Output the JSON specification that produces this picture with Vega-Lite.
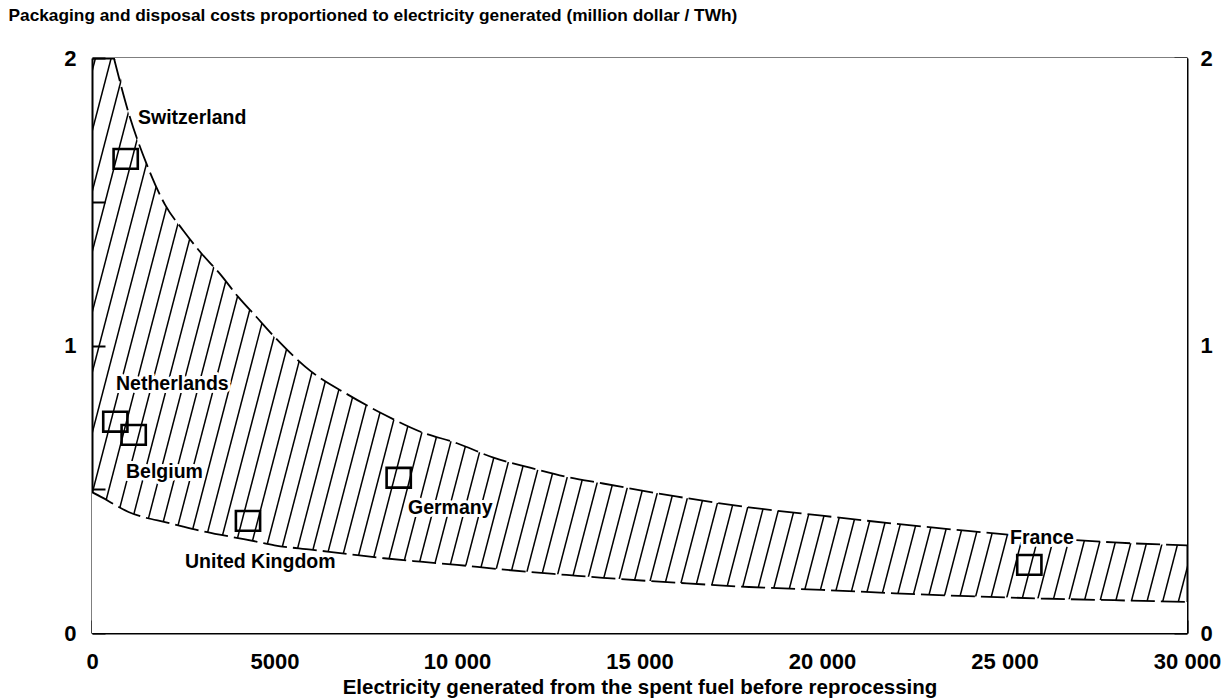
{
  "$schema": "https://vega.github.io/schema/vega-lite/v6.json",
  "width": 1095,
  "height": 575,
  "autosize": {"type": "none"},
  "padding": {"left": 92, "top": 58, "right": 39, "bottom": 66},
  "background": "white",
  "config": {
    "view": {"stroke": null},
    "font": "Liberation Sans",
    "axis": {
      "grid": false,
      "domainColor": "black",
      "domainWidth": 2,
      "tickColor": "black",
      "tickWidth": 2,
      "labelColor": "black",
      "labelFont": "Liberation Sans",
      "labelFontSize": 22,
      "labelFontWeight": "bold",
      "titleColor": "black",
      "titleFont": "Liberation Sans",
      "zindex": 1
    }
  },
  "datasets": {
    "band": [
      {"x": 0, "lo": 0.49, "hi": 2.0},
      {"x": 300, "lo": 0.47, "hi": 2.0},
      {"x": 600, "lo": 0.448, "hi": 2.0},
      {"x": 1000, "lo": 0.421, "hi": 1.81},
      {"x": 1500, "lo": 0.4, "hi": 1.63},
      {"x": 2000, "lo": 0.386, "hi": 1.49},
      {"x": 2500, "lo": 0.37, "hi": 1.4},
      {"x": 3000, "lo": 0.355, "hi": 1.32},
      {"x": 3500, "lo": 0.342, "hi": 1.25},
      {"x": 4000, "lo": 0.33, "hi": 1.17},
      {"x": 4500, "lo": 0.318, "hi": 1.1},
      {"x": 5000, "lo": 0.305, "hi": 1.03},
      {"x": 6000, "lo": 0.29, "hi": 0.91},
      {"x": 7000, "lo": 0.275, "hi": 0.83},
      {"x": 8000, "lo": 0.26, "hi": 0.76},
      {"x": 9000, "lo": 0.248, "hi": 0.7},
      {"x": 10000, "lo": 0.237, "hi": 0.66},
      {"x": 11000, "lo": 0.224, "hi": 0.61},
      {"x": 12000, "lo": 0.212, "hi": 0.575},
      {"x": 13000, "lo": 0.202, "hi": 0.543},
      {"x": 14000, "lo": 0.192, "hi": 0.52},
      {"x": 16000, "lo": 0.175, "hi": 0.475},
      {"x": 18000, "lo": 0.16, "hi": 0.437},
      {"x": 20000, "lo": 0.15, "hi": 0.408},
      {"x": 22000, "lo": 0.138, "hi": 0.38},
      {"x": 24000, "lo": 0.128, "hi": 0.355},
      {"x": 26000, "lo": 0.12, "hi": 0.332},
      {"x": 28000, "lo": 0.114, "hi": 0.315},
      {"x": 30000, "lo": 0.108, "hi": 0.305}
    ],
    "hatch": [
      {"b": -4000, "t": 96}, {"b": -3570, "t": 526}, {"b": -3140, "t": 956}, {"b": -2710, "t": 1386},
      {"b": -2280, "t": 1816}, {"b": -1850, "t": 2246}, {"b": -1420, "t": 2676}, {"b": -990, "t": 3106},
      {"b": -560, "t": 3536}, {"b": -130, "t": 3966}, {"b": 300, "t": 4396}, {"b": 730, "t": 4826},
      {"b": 1160, "t": 5256}, {"b": 1590, "t": 5686}, {"b": 2020, "t": 6116}, {"b": 2450, "t": 6546},
      {"b": 2880, "t": 6976}, {"b": 3310, "t": 7406}, {"b": 3740, "t": 7836}, {"b": 4170, "t": 8266},
      {"b": 4600, "t": 8696}, {"b": 5030, "t": 9126}, {"b": 5460, "t": 9556}, {"b": 5890, "t": 9986},
      {"b": 6320, "t": 10416}, {"b": 6750, "t": 10846}, {"b": 7180, "t": 11276}, {"b": 7610, "t": 11706},
      {"b": 8040, "t": 12136}, {"b": 8470, "t": 12566}, {"b": 8900, "t": 12996}, {"b": 9330, "t": 13426},
      {"b": 9760, "t": 13856}, {"b": 10190, "t": 14286}, {"b": 10620, "t": 14716}, {"b": 11050, "t": 15146},
      {"b": 11480, "t": 15576}, {"b": 11910, "t": 16006}, {"b": 12340, "t": 16436}, {"b": 12770, "t": 16866},
      {"b": 13200, "t": 17296}, {"b": 13630, "t": 17726}, {"b": 14060, "t": 18156}, {"b": 14490, "t": 18586},
      {"b": 14920, "t": 19016}, {"b": 15350, "t": 19446}, {"b": 15780, "t": 19876}, {"b": 16210, "t": 20306},
      {"b": 16640, "t": 20736}, {"b": 17070, "t": 21166}, {"b": 17500, "t": 21596}, {"b": 17930, "t": 22026},
      {"b": 18360, "t": 22456}, {"b": 18790, "t": 22886}, {"b": 19220, "t": 23316}, {"b": 19650, "t": 23746},
      {"b": 20080, "t": 24176}, {"b": 20510, "t": 24606}, {"b": 20940, "t": 25036}, {"b": 21370, "t": 25466},
      {"b": 21800, "t": 25896}, {"b": 22230, "t": 26326}, {"b": 22660, "t": 26756}, {"b": 23090, "t": 27186},
      {"b": 23520, "t": 27616}, {"b": 23950, "t": 28046}, {"b": 24380, "t": 28476}, {"b": 24810, "t": 28906},
      {"b": 25240, "t": 29336}, {"b": 25670, "t": 29766}, {"b": 26100, "t": 30196}, {"b": 26530, "t": 30626},
      {"b": 26960, "t": 31056}, {"b": 27390, "t": 31486}, {"b": 27820, "t": 31916}, {"b": 28250, "t": 32346},
      {"b": 28680, "t": 32776}, {"b": 29110, "t": 33206}, {"b": 29540, "t": 33636}, {"b": 29970, "t": 34066}
    ],
    "pts": [
      {"country": "Switzerland", "x": 923, "y": 1.649, "lx": 1260, "ly": 1.79},
      {"country": "Netherlands", "x": 639, "y": 0.735, "lx": 658, "ly": 0.866},
      {"country": "Belgium", "x": 1142, "y": 0.689, "lx": 932, "ly": 0.561},
      {"country": "United Kingdom", "x": 4274, "y": 0.39, "lx": 2548, "ly": 0.248},
      {"country": "Germany", "x": 8403, "y": 0.54, "lx": 8658, "ly": 0.435},
      {"country": "France", "x": 25680, "y": 0.237, "lx": 25151, "ly": 0.33}
    ]
  },
  "layer": [
    {
      "data": {"name": "hatch"},
      "mark": {"type": "rule", "clip": true, "color": "black", "strokeWidth": 1.5},
      "encoding": {
        "x": {
          "field": "b", "type": "quantitative",
          "scale": {"domain": [0, 30000], "nice": false},
          "axis": {
            "orient": "bottom",
            "values": [0, 5000, 10000, 15000, 20000, 25000, 30000],
            "tickSize": -13,
            "labelPadding": 31,
            "labelExpr": "datum.value >= 10000 ? replace(format(datum.value, ','), ',', ' ') : format(datum.value, 'd')",
            "labelFlush": false,
            "title": "Electricity generated from the spent fuel before reprocessing",
            "titleFontSize": 20.5,
            "titleFontWeight": "bold",
            "titlePadding": 5
          }
        },
        "x2": {"field": "t"},
        "y": {
          "datum": 0, "type": "quantitative",
          "scale": {"domain": [0, 2], "nice": false},
          "axis": {
            "orient": "left",
            "values": [0, 0.5, 1, 1.5, 2],
            "tickSize": -13,
            "labelPadding": 29,
            "labelExpr": "datum.value % 1 == 0 ? format(datum.value, 'd') : ''",
            "title": "Packaging and disposal costs proportioned to electricity generated (million dollar / TWh)",
            "titleAngle": 0,
            "titleAlign": "left",
            "titleBaseline": "middle",
            "titleX": -84,
            "titleY": -43,
            "titleFontSize": 17.3,
            "titleFontWeight": "bold"
          }
        },
        "y2": {"datum": 2}
      }
    },
    {
      "data": {"name": "band"},
      "mark": {"type": "area", "clip": true, "color": "white", "interpolate": "monotone"},
      "encoding": {
        "x": {"field": "x", "type": "quantitative", "axis": null},
        "y": {"field": "hi", "type": "quantitative", "axis": null},
        "y2": {"datum": 2}
      }
    },
    {
      "data": {"name": "band"},
      "mark": {"type": "area", "clip": true, "color": "white", "interpolate": "monotone"},
      "encoding": {
        "x": {"field": "x", "type": "quantitative", "axis": null},
        "y": {"field": "lo", "type": "quantitative", "axis": null},
        "y2": {"datum": 0}
      }
    },
    {
      "data": {"name": "band"},
      "transform": [{"filter": "datum.x >= 600"}],
      "mark": {"type": "line", "clip": true, "color": "black", "strokeWidth": 1.8, "strokeDash": [24, 6], "interpolate": "monotone"},
      "encoding": {
        "x": {"field": "x", "type": "quantitative", "axis": null},
        "y": {"field": "hi", "type": "quantitative", "axis": null}
      }
    },
    {
      "data": {"name": "band"},
      "mark": {"type": "line", "clip": true, "color": "black", "strokeWidth": 1.8, "strokeDash": [24, 6], "interpolate": "monotone"},
      "encoding": {
        "x": {"field": "x", "type": "quantitative", "axis": null},
        "y": {"field": "lo", "type": "quantitative", "axis": null}
      }
    },
    {
      "data": {"name": "pts"},
      "mark": {"type": "text", "align": "left", "baseline": "middle", "fontSize": 19.5, "fontWeight": "bold", "stroke": "white", "strokeWidth": 6, "strokeJoin": "round", "color": "white"},
      "encoding": {
        "x": {"field": "lx", "type": "quantitative", "axis": null},
        "y": {"field": "ly", "type": "quantitative", "axis": null},
        "text": {"field": "country"}
      }
    },
    {
      "data": {"name": "pts"},
      "mark": {"type": "text", "align": "left", "baseline": "middle", "fontSize": 19.5, "fontWeight": "bold", "color": "black"},
      "encoding": {
        "x": {"field": "lx", "type": "quantitative", "axis": null},
        "y": {"field": "ly", "type": "quantitative", "axis": null},
        "text": {"field": "country"}
      }
    },
    {
      "data": {"name": "pts"},
      "mark": {"type": "point", "shape": "M-1.1,-0.9H1.1V0.9H-1.1Z", "filled": false, "size": 484, "stroke": "black", "strokeWidth": 2.6, "opacity": 1},
      "encoding": {
        "x": {
          "field": "x", "type": "quantitative",
          "axis": {"orient": "top", "ticks": false, "labels": false, "title": null, "domain": true}
        },
        "y": {
          "field": "y", "type": "quantitative",
          "axis": {
            "orient": "right",
            "values": [0, 0.5, 1, 1.5, 2],
            "tickSize": -13,
            "labelPadding": 26,
            "labelExpr": "datum.value % 1 == 0 ? format(datum.value, 'd') : ''",
            "title": null
          }
        }
      }
    }
  ],
  "resolve": {
    "scale": {"x": "shared", "y": "shared"},
    "axis": {"x": "independent", "y": "independent"}
  }
}
